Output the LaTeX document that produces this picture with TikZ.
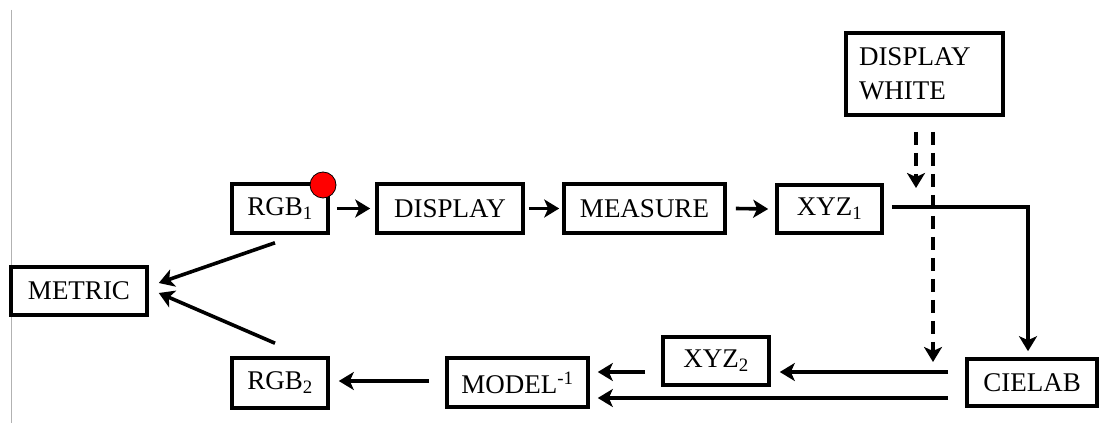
\documentclass[tikz,border=0pt]{standalone}
\usepackage{fontspec}
\setmainfont{Liberation Serif}
\usetikzlibrary{arrows.meta}
\tikzset{
  blockbox/.style={draw, line width=3.6pt, rectangle, inner sep=0pt,
    font=\fontsize{27}{34}\selectfont},
  arr/.style={line width=3.6pt, -{Stealth[length=15pt,width=18pt,inset=4pt]}},
  dasharr/.style={arr, dash pattern=on 13pt off 8pt},
}
\begin{document}
\begin{tikzpicture}[x=1pt,y=-1pt]
  \useasboundingbox[fill=white] (0,0) rectangle (1103,427);
  % page edge on the left
  \draw[line width=1pt, black!30] (11,10) -- (11,423);

  % blocks
  \node[blockbox, minimum width=136pt, minimum height=48pt] (metric)  at (79,291)    {METRIC};
  \node[blockbox, minimum width=96pt,  minimum height=49pt] (rgb1)    at (280,208.5) {RGB\textsubscript{1}};
  \node[blockbox, minimum width=146pt, minimum height=49pt] (display) at (450,208.5) {DISPLAY};
  \node[blockbox, minimum width=161pt, minimum height=49pt] (measure) at (644.5,208.5) {MEASURE};
  \node[blockbox, minimum width=105pt, minimum height=48pt] (xyz1)    at (829.5,209) {XYZ\textsubscript{1}};
  \node[blockbox, minimum height=82pt, inner xsep=13pt, text width=131pt, align=left] (white) at (924.5,74) {DISPLAY\\WHITE};
  \node[blockbox, minimum width=130pt, minimum height=47pt] (cielab)  at (1032,382.5) {CIELAB};
  \node[blockbox, minimum width=106pt, minimum height=48pt] (xyz2)    at (716,361)   {XYZ\textsubscript{2}};
  \node[blockbox, minimum width=141pt, minimum height=49pt] (model)   at (517.5,382.5) {MODEL\textsuperscript{-1}};
  \node[blockbox, minimum width=96pt,  minimum height=50pt] (rgb2)    at (280,383)   {RGB\textsubscript{2}};

  % marker on the first RGB block
  \node[circle, draw, line width=0.8pt, fill=red, minimum size=26pt, inner sep=0pt] (dot) at (323,185) {};

  % forward chain
  \draw[arr] ([xshift=7pt]rgb1.east) -- ([xshift=-5pt]display.west);
  \draw[arr] ([xshift=4pt]display.east) -- ([xshift=-3pt]measure.west);
  \draw[arr] ([xshift=9pt]measure.east) -- ([xshift=-7pt]xyz1.west);
  \draw[arr] ([xshift=8pt,yshift=2pt]xyz1.east) -| ([xshift=-4pt,yshift=6pt]cielab.north);

  % white point inputs
  \coordinate (wtip1) at (916,188);
  \coordinate (wtip2) at (933,362);
  \draw[dasharr] (white.south -| wtip1) ++(0,15) -- (wtip1);
  \draw[dasharr] (white.south -| wtip2) ++(0,15) -- (wtip2);

  % return path
  \draw[arr] ([xshift=-17pt,yshift=10.5pt]cielab.west) -- ([xshift=9pt,yshift=-11pt]xyz2.east);
  \draw[arr] ([xshift=-17pt,yshift=-15.5pt]cielab.west) -- ([xshift=8pt,yshift=-15.5pt]model.east);
  \draw[arr] ([xshift=-16pt,yshift=-11pt]xyz2.west) -- ([xshift=8pt,yshift=10.5pt]model.east);
  \draw[arr] ([xshift=-16pt,yshift=1.5pt]model.west) -- ([xshift=9pt,yshift=2pt]rgb2.east);

  % comparison
  \draw[arr] ([xshift=-5pt,yshift=-8pt]rgb1.south) -- ([xshift=10pt,yshift=8pt]metric.east);
  \draw[arr] ([xshift=-5pt,yshift=13pt]rgb2.north) -- ([xshift=10pt,yshift=-2pt]metric.east);
\end{tikzpicture}
\end{document}
